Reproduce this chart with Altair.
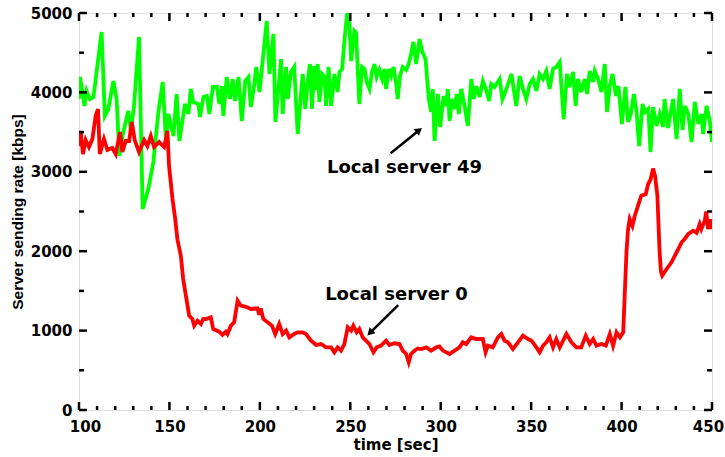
import math
import altair as alt
import pandas as pd

# ---------------- data ----------------
green_t = [100.0, 100.6, 103.0, 104.2, 106.0, 108.0, 112.5, 114.3, 116.2, 119.0, 120.8, 122.3,
           124.5, 127.2, 128.7, 130.4, 133.2, 135.2, 138.3, 141.1, 143.9, 146.3, 148.1, 149.4,
           152.2, 154.0, 155.5, 158.6, 160.5, 161.8, 163.2, 166.0, 166.9, 168.8, 170.7, 172.1,
           174.0, 176.2, 177.6, 178.9, 179.8, 181.7, 183.5, 185.0, 186.3, 188.2, 190.0, 191.9,
           193.7, 195.0, 196.5, 198.0, 199.8, 203.8, 205.3, 207.5, 208.6, 211.7, 212.6, 214.5,
           215.4, 217.2, 219.0, 220.9, 223.7, 225.1, 226.4, 227.7, 228.8, 230.1, 231.0, 232.0,
           232.9, 234.4, 235.8, 236.6, 238.0, 239.4, 241.2, 243.0, 244.0, 245.5, 246.7, 248.3,
           249.2, 250.5, 252.3, 253.2, 255.0, 256.5, 257.9, 259.1, 260.6, 262.0, 263.4, 264.6,
           266.1, 267.6, 268.9, 269.8, 271.3, 272.6, 273.9, 275.4, 276.2, 277.5, 279.0, 280.9,
           282.3, 283.6, 284.9, 286.4, 288.3, 289.8, 291.6, 293.4, 294.7, 295.6, 296.6, 298.4,
           299.7, 301.6, 303.1, 303.9, 304.9, 306.3, 307.6, 308.9, 310.0, 311.3, 313.2, 315.0,
           316.9, 318.2, 319.6, 321.5, 323.3, 325.2, 326.8, 327.9, 329.7, 332.6, 334.1, 336.3,
           339.1, 341.8, 343.6, 345.5, 347.3, 349.2, 351.0, 352.9, 354.7, 356.6, 358.4, 360.2,
           362.1, 363.9, 365.8, 368.0, 369.8, 371.3, 373.2, 374.6, 375.9, 377.7, 379.6, 380.9,
           382.4, 384.3, 385.2, 387.0, 388.9, 390.7, 392.0, 393.5, 395.0, 396.9, 398.3, 400.2,
           402.1, 403.6, 405.1, 406.8, 408.3, 409.7, 411.6, 413.0, 414.8, 416.0, 417.4, 419.3,
           421.1, 422.9, 423.8, 425.7, 427.0, 428.5, 430.4, 432.2, 433.7, 435.0, 436.9, 438.7,
           440.5, 442.4, 444.3, 445.1, 447.0, 448.8, 450.0]
green_v = [3917, 4194, 3829, 4018, 3917, 3942, 4760, 3703, 3787, 4144, 3917, 3199,
           3501, 3766, 3514, 3829, 4698, 2531, 2783, 3123, 3753, 4131, 3375, 3728,
           3451, 3980, 3388, 3854, 3728, 4043, 3879, 3854, 3690, 3942, 3955, 3728,
           4068, 4068, 3854, 4080, 3703, 4194, 3917, 4169, 3892, 4194, 3640, 4144,
           4194, 3816, 4030, 4320, 4005, 4899, 4232, 4735, 3627, 4420, 3728, 4320,
           3917, 4257, 4320, 3476, 4232, 3791, 4131, 4358, 3791, 4332, 4030, 4358,
           3879, 4232, 4194, 3829, 4320, 3829, 4232, 4005, 4257, 4295, 4635, 5000,
           5000, 4395, 4773, 4750, 3854, 4320, 4295, 4131, 4043, 4257, 4358, 4194,
           4283, 4169, 4295, 4043, 4295, 4207, 4320, 4106, 3917, 4207, 4320, 4283,
           4358, 4484, 4635, 4358, 4672, 4509, 4420, 3917, 3753, 4043, 3388, 3980,
           3564, 3955, 3829, 4043, 3640, 3917, 3791, 3980, 3728, 4043, 3829, 3577,
           4169, 3917, 4080, 3942, 4144, 4030, 3892, 4106, 4068, 4169, 3917, 4043,
           4232, 3829, 4207, 4043, 3917, 4106, 4169, 4018, 4232, 4169, 4270, 4043,
           4295, 4320, 4383, 3665, 4232, 4068, 4257, 3829, 4169, 4005, 4169, 3980,
           4270, 4131, 4270, 4169, 4005, 4358, 3753, 4080, 4232, 3955, 4080, 3602,
           4068, 3627, 3728, 3980, 3753, 3325, 3854, 3753, 3791, 3249, 3816, 3577,
           3728, 3564, 3917, 3551, 3728, 3917, 3413, 4043, 3527, 3829, 3728, 3375,
           3879, 3602, 3728, 3476, 3829, 3640, 3375]

red_t = [100.0, 100.9, 102.2, 103.7, 105.5, 107.4, 109.2, 110.5, 111.5, 113.8, 115.7, 118.4,
         120.3, 122.7, 124.0, 125.8, 127.7, 129.2, 130.8, 133.2, 136.0, 137.8, 139.7, 141.5,
         144.3, 147.1, 148.9, 149.8, 151.7, 153.2, 154.4, 156.3, 157.6, 159.1, 160.9, 162.7,
         163.7, 165.5, 167.4, 168.7, 170.2, 172.9, 174.2, 177.5, 179.3, 181.2, 182.1, 184.0,
         185.8, 187.7, 189.5, 192.3, 195.1, 198.7, 199.6, 200.5, 201.9, 204.3, 206.7, 208.5,
         210.7, 212.6, 214.5, 216.3, 219.0, 220.9, 223.7, 225.5, 228.3, 231.1, 233.9, 236.6,
         239.4, 241.2, 243.0, 244.9, 246.7, 248.6, 250.5, 251.7, 253.5, 255.0, 256.9, 258.7,
         260.6, 262.8, 264.6, 267.0, 269.8, 271.6, 274.4, 277.2, 279.0, 280.9, 282.3, 283.6,
         285.5, 287.3, 289.2, 292.0, 294.7, 297.5, 299.3, 301.2, 304.9, 307.6, 310.4, 312.2,
         314.1, 316.9, 319.6, 323.3, 324.8, 326.1, 328.8, 331.6, 333.5, 335.3, 337.2, 339.9,
         342.7, 345.5, 348.3, 350.2, 352.9, 354.7, 356.6, 358.4, 360.2, 362.1, 363.9, 365.8,
         369.5, 372.3, 375.0, 377.7, 380.2, 382.4, 384.3, 386.1, 388.9, 391.3, 393.5, 395.3,
         397.2, 399.1, 400.9, 402.7, 403.6, 404.5, 406.0, 407.3, 409.1, 410.9, 413.4, 414.7,
         416.0, 417.4, 418.5, 419.8, 421.0, 421.8, 422.5, 424.9, 427.6, 430.4, 433.2, 434.9,
         436.9, 439.6, 441.5, 443.2, 444.1, 446.0, 446.8, 447.8, 449.0, 450.0]
red_v = [3325, 3514, 3224, 3400, 3312, 3413, 3703, 3791, 3224, 3413, 3274, 3300,
         3224, 3501, 3249, 3388, 3388, 3627, 3400, 3249, 3400, 3325, 3451, 3312,
         3375, 3312, 3514, 3073, 2657, 2406, 2150, 1943, 1650, 1440, 1188, 1146,
         1062, 1125, 1083, 1146, 1146, 1167, 1020, 986, 945, 986, 957, 1062,
         1104, 1377, 1314, 1300, 1272, 1280, 1200, 1280, 1146, 1104, 1062, 957,
         1083, 957, 1000, 915, 957, 978, 978, 957, 873, 819, 831, 789,
         789, 727, 789, 748, 831, 1042, 1000, 1062, 978, 1020, 915, 873,
         831, 727, 789, 811, 873, 819, 840, 831, 748, 705, 600, 705,
         748, 776, 768, 789, 748, 789, 800, 748, 705, 748, 789, 853,
         831, 915, 894, 894, 727, 811, 789, 915, 957, 873, 853, 768,
         853, 936, 894, 873, 789, 727, 811, 853, 915, 789, 894, 789,
         957, 853, 789, 789, 936, 831, 894, 811, 831, 811, 957, 811,
         978, 915, 978, 1986, 2280, 2406, 2320, 2447, 2573, 2699, 2720, 2846,
         2900, 3040, 2950, 2700, 2000, 1740, 1692, 1776, 1860, 1986, 2112, 2154,
         2217, 2258, 2230, 2342, 2280, 2384, 2500, 2280, 2400, 2280]

x_major = [100, 150, 200, 250, 300, 350, 400, 450]
x_minor = [110, 120, 130, 140, 160, 170, 180, 190, 210, 220, 230, 240, 260, 270, 280, 290,
           310, 320, 330, 340, 360, 370, 380, 390, 410, 420, 430, 440]
y_major = [0, 1000, 2000, 3000, 4000, 5000]
y_minor = [500, 1500, 2500, 3500, 4500]

ann_label = ["Local server 49", "Local server 0"]
ann_t = [280.0, 275.5]
ann_v = [3048, 1448]
arrow_t0 = [272.3, 276.5]
arrow_v0 = [3233, 1322]
arrow_t1 = [290.0, 259.1]
arrow_v1 = [3560, 932]

# ---------------- layout ----------------
W, H = 633, 397
XMIN, XMAX, YMIN, YMAX = 100, 450, 0, 5000
xs = alt.Scale(domain=[XMIN, XMAX], nice=False, zero=False)
ys = alt.Scale(domain=[YMIN, YMAX], nice=False, zero=False)
FONT = "DejaVu Sans"

x_axis = alt.Axis(values=x_major, format="d", title="time [sec]", tickSize=0, ticks=False,
                  domain=False, grid=False, labelFlush=False, labelOverlap=False,
                  labelFont=FONT, labelFontSize=15, labelFontWeight="bold",
                  labelColor="black", labelPadding=9,
                  labelOffset={"condition": [{"test": "datum.value === 100", "value": 6},
                                             {"test": "datum.value === 450", "value": -4}],
                               "value": 0},
                  titleFont=FONT, titleFontSize=15, titleFontWeight="bold", titleColor="black",
                  titlePadding=3)
y_axis = alt.Axis(values=y_major, format="d", title="Server sending rate [kbps]", tickSize=0,
                  ticks=False, domain=False, grid=False, labelFlush=False, labelOverlap=False,
                  labelFont=FONT, labelFontSize=15,
                  labelFontWeight="bold", labelColor="black", labelPadding=7,
                  titleFont="Liberation Sans", titleFontSize=15.5, titleFontWeight="bold",
                  titleColor="black", titlePadding=5)


def X(field):
    return alt.X(field, type="quantitative", scale=xs, axis=x_axis)


def Y(field):
    return alt.Y(field, type="quantitative", scale=ys, axis=y_axis)


green_df = pd.DataFrame({"t": green_t, "v": green_v})
red_df = pd.DataFrame({"t": red_t, "v": red_v})

green = alt.Chart(green_df).mark_line(color="#00FF00", strokeWidth=3.8, clip=True).encode(
    x=X("t"), y=Y("v"))
red = alt.Chart(red_df).mark_line(color="#FF0000", strokeWidth=3.8, clip=True).encode(
    x=X("t"), y=Y("v"))


def xticks(values, y0, y1):
    return alt.Chart(pd.DataFrame({"t": values})).mark_rule(color="black", strokeWidth=2.5).encode(
        x=X("t"), y=alt.value(y0), y2=alt.value(y1))


def yticks(values, x0, x1):
    return alt.Chart(pd.DataFrame({"v": values})).mark_rule(color="black", strokeWidth=2.5).encode(
        y=Y("v"), x=alt.value(x0), x2=alt.value(x1))


ticks = [
    xticks(x_major, H, H - 8), xticks(x_major, 0, 8),
    xticks(x_minor, H, H - 4), xticks(x_minor, 0, 4),
    yticks(y_major, 0, 8), yticks(y_major, W, W - 8),
    yticks(y_minor, 0, 5), yticks(y_minor, W, W - 5),
]

# annotations
text_df = pd.DataFrame({"t": ann_t, "v": ann_v, "label": ann_label})
texts = alt.Chart(text_df).mark_text(font=FONT, fontSize=18, fontWeight="bold", color="black",
                                     align="center", baseline="middle").encode(
    x=X("t"), y=Y("v"), text="label:N")

px_t = W / (XMAX - XMIN)
px_v = H / (YMAX - YMIN)
rows = []
for a, b, c, d in zip(arrow_t0, arrow_v0, arrow_t1, arrow_v1):
    dx = (c - a) * px_t
    dy = -(d - b) * px_v
    L = math.hypot(dx, dy)
    ux, uy = dx / L, dy / L
    back = 4.5
    hx = c - ux * back / px_t
    hy = d + uy * back / px_v
    ang = math.degrees(math.atan2(dx, -dy)) % 360
    rows.append({"t": a, "v": b, "t1": hx, "v1": hy, "ang": ang})
arrow_df = pd.DataFrame(rows)
shafts = alt.Chart(arrow_df).mark_rule(color="black", strokeWidth=2.5).encode(
    x=X("t"), y=Y("v"), x2="t1:Q", y2="v1:Q")
heads = alt.Chart(arrow_df).transform_calculate(t="datum.t1", v="datum.v1").mark_point(
    shape="triangle-up", filled=True, color="black", size=70, opacity=1).encode(
    x=X("t"), y=Y("v"), angle=alt.Angle("ang:Q", scale=None))

chart = alt.layer(green, red, *ticks, shafts, heads, texts).properties(
    width=W, height=H,
    padding={"left": 79, "top": 13, "right": 13, "bottom": 47},
    autosize=alt.AutoSizeParams(type="none"),
).configure_view(stroke="black", strokeWidth=3).configure(background="white")

chart.save("out.html", embed_options={"renderer": "svg", "actions": False})
